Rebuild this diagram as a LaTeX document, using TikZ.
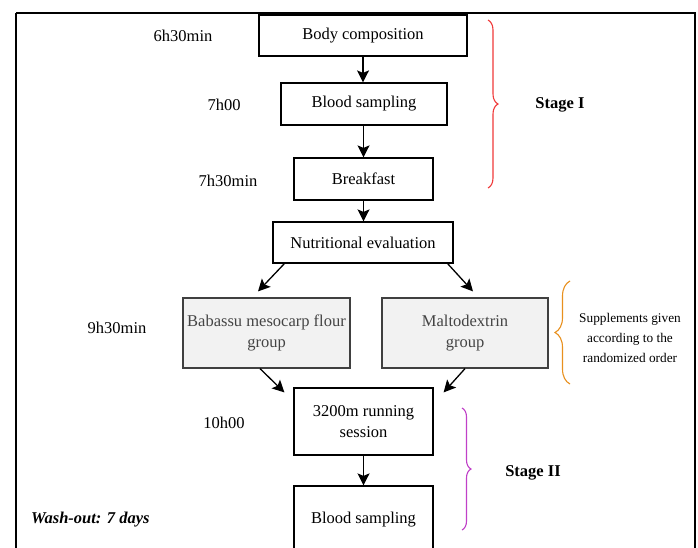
\documentclass[tikz,border=0pt]{standalone}
\usepackage{fontspec}
\setmainfont{Liberation Serif}
\usetikzlibrary{arrows.meta,decorations.pathreplacing,calc}
\definecolor{braceRed}{HTML}{F03A3A}
\definecolor{braceOrange}{HTML}{E8901E}
\definecolor{bracePurple}{HTML}{C040C8}
\definecolor{groupFill}{HTML}{F2F2F2}
\definecolor{groupText}{HTML}{444444}
\tikzset{
  stagebox/.style={draw=black, line width=1.2pt, fill=white, inner sep=0pt, align=center,
    font=\fontsize{16.5}{21}\selectfont},
  groupbox/.style={draw=black!75, line width=1.2pt, fill=groupFill, inner sep=0pt, align=center,
    text=groupText, font=\fontsize{16.5}{21}\selectfont},
  timelabel/.style={inner sep=0pt, font=\fontsize{16.5}{20}\selectfont},
  stagelabel/.style={inner sep=0pt, font=\fontsize{16.5}{20}\selectfont\bfseries},
  arr/.style={line width=1.3pt, -{Stealth[length=12pt,width=12pt,inset=2.5pt]}},
  bracedeco/.style={line width=1.1pt, decorate, decoration={brace, amplitude=#1}},
}
\begin{document}
\begin{tikzpicture}[x=1pt,y=-1pt]
\useasboundingbox (0,0) rectangle (698,547);
\clip (0,0) rectangle (698,547);
\fill[white] (0,0) rectangle (698,547);
\draw[line width=2.5pt] (16,13) -- (695,13) -- (695,600) (16,13) -- (16,600);

% boxes
\node[stagebox, minimum width=208pt, minimum height=41pt] (body) at (363,35.5) {Body composition};
\node[stagebox, minimum width=166pt, minimum height=42pt] (blood1) at (364,104) {Blood sampling};
\node[stagebox, minimum width=139pt, minimum height=42pt] (breakfast) at (363.5,179) {Breakfast};
\node[stagebox, minimum width=180pt, minimum height=41pt] (nutr) at (363,242.5) {Nutritional evaluation};
\node[groupbox, minimum width=167pt, minimum height=70pt] (bab) at (266.5,333) {Babassu mesocarp flour\\group};
\node[groupbox, minimum width=166pt, minimum height=70pt] (malt) at (465,333) {Maltodextrin\\group};
\node[stagebox, minimum width=139pt, minimum height=67pt] (run) at (363.5,421.5) {3200m running\\session};
\node[stagebox, minimum width=139pt, minimum height=68pt] (blood2) at (363.5,520) {Blood sampling};

% arrows
\draw[arr] (body.south) -- (body.south |- blood1.north);
\draw[arr] (breakfast.north |- blood1.south) -- (breakfast.north);
\draw[arr] (breakfast.south) -- (breakfast.south |- nutr.north);
\draw[arr] ([xshift=12pt]nutr.south west) -- ([xshift=-8.5pt,yshift=6pt]bab.north);
\draw[arr] ([xshift=-6pt]nutr.south east) -- ([xshift=8pt,yshift=6pt]malt.north);
\draw[arr] ([xshift=-6.5pt]bab.south) -- ([xshift=-9pt,yshift=-5pt]run.north west);
\draw[arr] (malt.south) -- ([xshift=10pt,yshift=-5pt]run.north east);
\draw[arr] (run.south) -- (run.south |- blood2.north);

% time labels
\node[timelabel] (t1) at (183,36) {6h30min};
\node[timelabel] (t2) at (224,105) {7h00};
\node[timelabel] (t3) at (228,181) {7h30min};
\node[timelabel] (t4) at (117,328) {9h30min};
\node[timelabel] (t5) at (224,423) {10h00};
\node[timelabel, anchor=west, font=\fontsize{16.5}{20}\selectfont\bfseries\itshape] (wash) at (31,520) {Wash-out: 7 days};

% braces
\coordinate (b1top) at (488,20);
\coordinate (b1bot) at (488,188);
\draw[bracedeco=10pt, braceRed] (b1top) -- (b1bot);
\node[stagelabel] (s1) at (560,105) {Stage I};

\coordinate (b2top) at (570,281);
\coordinate (b2bot) at (570,384);
\draw[bracedeco=15pt, braceOrange] (b2bot) -- (b2top);
\node[inner sep=0pt, align=center, font=\fontsize{13.3}{20}\selectfont] (supp) at (630,338) {Supplements given\\according to the\\randomized order};

\coordinate (b3top) at (462,408);
\coordinate (b3bot) at (462,530);
\draw[bracedeco=9pt, bracePurple] (b3top) -- (b3bot);
\node[stagelabel] (s2) at (533,473) {Stage II};
\end{tikzpicture}
\end{document}
